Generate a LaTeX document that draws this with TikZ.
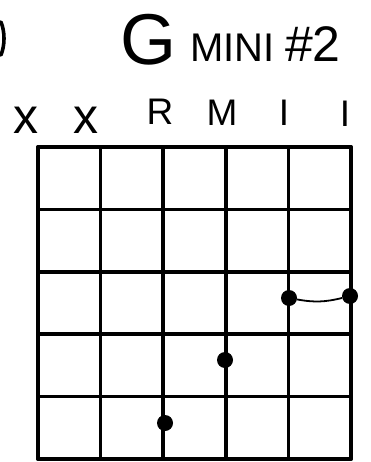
\documentclass[tikz,border=0pt]{standalone}
\usepackage{fontspec}
\setsansfont{Liberation Sans}
\usetikzlibrary{positioning}

\begin{document}
\begin{tikzpicture}[x=1pt,y=-1pt,
      ink/.style={line width=3.6pt,line cap=round,black},
      lbl/.style={font=\fontsize{37}{37}\selectfont\sffamily,inner sep=0pt,anchor=base},
      mute/.style={font=\fontsize{50}{50}\selectfont\sffamily,inner sep=0pt,anchor=base},
      fing/.style={circle,fill=black,inner sep=0pt,minimum size=16pt},
    ]
    \useasboundingbox[fill=white] (0,0) rectangle (370,462);

    % title
    \node[font=\fontsize{72}{72}\selectfont\sffamily,inner sep=0pt,anchor=base] (big) at (148,65) {G};
    \node[font=\fontsize{40}{40}\selectfont\sffamily,inner sep=0pt,anchor=base west] (mini) at (190,62) {MINI};
    \node[font=\fontsize{50}{50}\selectfont\sffamily,inner sep=0pt,right=10pt of mini.base east,anchor=base west] (num) {\#2};
    \draw[ink] (1,22) .. controls (5,32) and (5,45) .. (1,55);

    % fingers over the strings
    \node[mute] (s1) at (26,134) {x};
    \node[mute] (s2) at (86,134) {x};
    \node[lbl]  (s3) at (160,125) {R};
    \node[lbl]  (s4) at (222,126) {M};
    \node[lbl]  (s5) at (284,126) {I};
    \node[lbl]  (s6) at (345,127) {I};

    % grid
    \foreach \i in {0,...,5}{
      \draw[ink] (38+62.6*\i,147) -- (38+62.6*\i,459);
      \draw[ink] (38,147+62.4*\i) -- (351,147+62.4*\i);
    }

    % dots
    \node[fing] (d5) at (289,298) {};
    \node[fing] (d6) at (350,296) {};
    \node[fing] (d4) at (225,360) {};
    \node[fing] (d3) at (165,423) {};
    \draw[line width=1.8pt] (d5) to[bend right=12] (d6);
  \end{tikzpicture}
\end{document}
